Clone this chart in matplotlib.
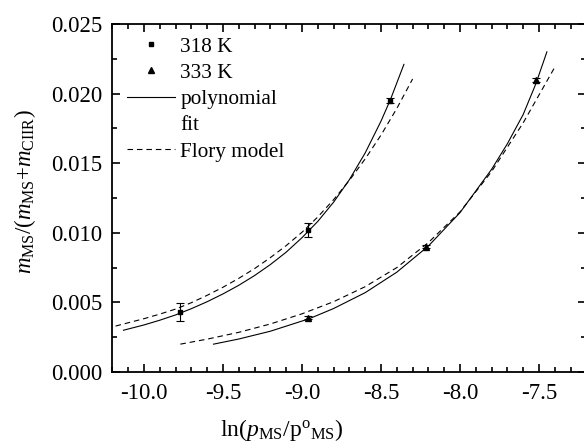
import numpy as np
import matplotlib
matplotlib.use("Agg")
from matplotlib import pyplot as plt
from matplotlib.lines import Line2D
from matplotlib.ticker import MultipleLocator, FormatStrFormatter

plt.rcParams['font.family'] = ['Liberation Serif', 'DejaVu Serif']
plt.rcParams['mathtext.fontset'] = 'custom'
plt.rcParams['mathtext.rm'] = 'Liberation Serif'
plt.rcParams['mathtext.it'] = 'Liberation Serif:italic'

# measured points
x_318 = [-9.77, -8.96, -8.44]
y_318 = [0.0043, 0.0102, 0.0195]
err_318 = [0.00065, 0.0005, 0.0002]

x_333 = [-8.96, -8.215, -7.52]
y_333 = [0.0039, 0.0090, 0.0210]
err_333 = [0.0001, 0.0001, 0.00015]

# curves
fit318_x = [-10.13, -10.0, -9.9, -9.8, -9.7, -9.6, -9.5, -9.4, -9.3, -9.2, -9.1, -9.0,
            -8.9, -8.8, -8.7, -8.6, -8.5, -8.44, -8.355]
fit318_y = [0.00300, 0.00338, 0.00372, 0.00410, 0.00455, 0.00505, 0.00561, 0.00623, 0.00693,
            0.00772, 0.00861, 0.00965, 0.01082, 0.01220, 0.01382, 0.01574, 0.01802, 0.01958, 0.0221]
flory318_x = [-10.18, -10.0, -9.9, -9.8, -9.7, -9.6, -9.5, -9.4, -9.3, -9.2, -9.1, -9.0,
              -8.9, -8.8, -8.7, -8.6, -8.5, -8.4, -8.3]
flory318_y = [0.00330, 0.00383, 0.00416, 0.00452, 0.00498, 0.00551, 0.00609, 0.00673, 0.00743,
              0.00822, 0.00908, 0.01004, 0.01114, 0.01238, 0.01377, 0.01531, 0.01702, 0.01893, 0.02105]

fit333_x = [-9.56, -9.4, -9.2, -9.0, -8.96, -8.8, -8.6, -8.4, -8.2, -8.0, -7.8, -7.7, -7.6,
            -7.52, -7.45]
fit333_y = [0.0020, 0.00237, 0.00293, 0.00366, 0.0038, 0.00456, 0.00570, 0.00717, 0.00905,
            0.01145, 0.01456, 0.0164, 0.0185, 0.0207, 0.0230]
flory333_x = [-9.77, -9.6, -9.4, -9.2, -9.0, -8.8, -8.6, -8.4, -8.2, -8.0, -7.8, -7.6, -7.405]
flory333_y = [0.0020, 0.00236, 0.00285, 0.00345, 0.00418, 0.00505, 0.00613, 0.0075, 0.0093,
              0.0115, 0.0144, 0.0179, 0.0218]

fig = plt.figure(figsize=(5.84, 4.42), dpi=100)
ax = fig.add_axes([0.1925, 0.1584, 0.8116, 0.7873])

dash = (0, (5, 3.5))
ax.plot(fit318_x, fit318_y, color='black', lw=0.8)
ax.plot(flory318_x, flory318_y, color='black', lw=0.8, linestyle=dash)
ax.plot(fit333_x, fit333_y, color='black', lw=0.8)
ax.plot(flory333_x, flory333_y, color='black', lw=0.8, linestyle=dash)

ax.errorbar(x_318, y_318, yerr=err_318, fmt='s', color='black', ms=3.5,
            elinewidth=0.8, capsize=3, capthick=0.8)
ax.errorbar(x_333, y_333, yerr=err_333, fmt='^', color='black', ms=4,
            elinewidth=0.8, capsize=3, capthick=0.8)

ax.set_xlim(-10.2, -7.2)
ax.set_ylim(0.0, 0.025)
ax.xaxis.set_major_locator(MultipleLocator(0.5))
ax.xaxis.set_minor_locator(MultipleLocator(0.1))
ax.yaxis.set_major_locator(MultipleLocator(0.005))
ax.yaxis.set_minor_locator(MultipleLocator(0.0025))
ax.xaxis.set_major_formatter(FormatStrFormatter('%.1f'))
ax.yaxis.set_major_formatter(FormatStrFormatter('%.3f'))
ax.tick_params(which='both', direction='in', top=True, right=True, width=1.2, labelsize=16.5)
ax.tick_params(which='major', length=6)
ax.tick_params(which='minor', length=3.5)
ax.tick_params(axis='x', which='major', pad=8)
ax.tick_params(axis='y', which='major', pad=7.5)
for s in ax.spines.values():
    s.set_linewidth(1.3)

ax.set_xlabel(r'ln($p_{\mathrm{MS}}$/$\mathrm{p}^{\mathrm{o}}{}_{\mathrm{MS}}$)', fontsize=17)
ax.xaxis.set_label_coords(0.358, -0.13)
ax.set_ylabel(r'$m_{\mathrm{MS}}$/($m_{\mathrm{MS}}$+$m_{\mathrm{CIIR}}$)', fontsize=16.5)
ax.yaxis.set_label_coords(-0.157, 0.517)

handles = [
    Line2D([], [], marker='s', ms=3.5, color='black', linestyle='none'),
    Line2D([], [], marker='^', ms=4, color='black', linestyle='none'),
    Line2D([], [], color='black', lw=0.8),
    Line2D([], [], color='none'),
    Line2D([], [], color='black', lw=0.8, linestyle=dash),
]
labels = ['318 K', '333 K', 'polynomial', 'fit', 'Flory model']
ax.legend(handles, labels, loc='upper left', bbox_to_anchor=(0.013, 0.988),
          borderaxespad=0, frameon=False, fontsize=15.3, handlelength=2.25,
          handletextpad=0.25, labelspacing=0.3)

fig.savefig('out.png', dpi=100)
